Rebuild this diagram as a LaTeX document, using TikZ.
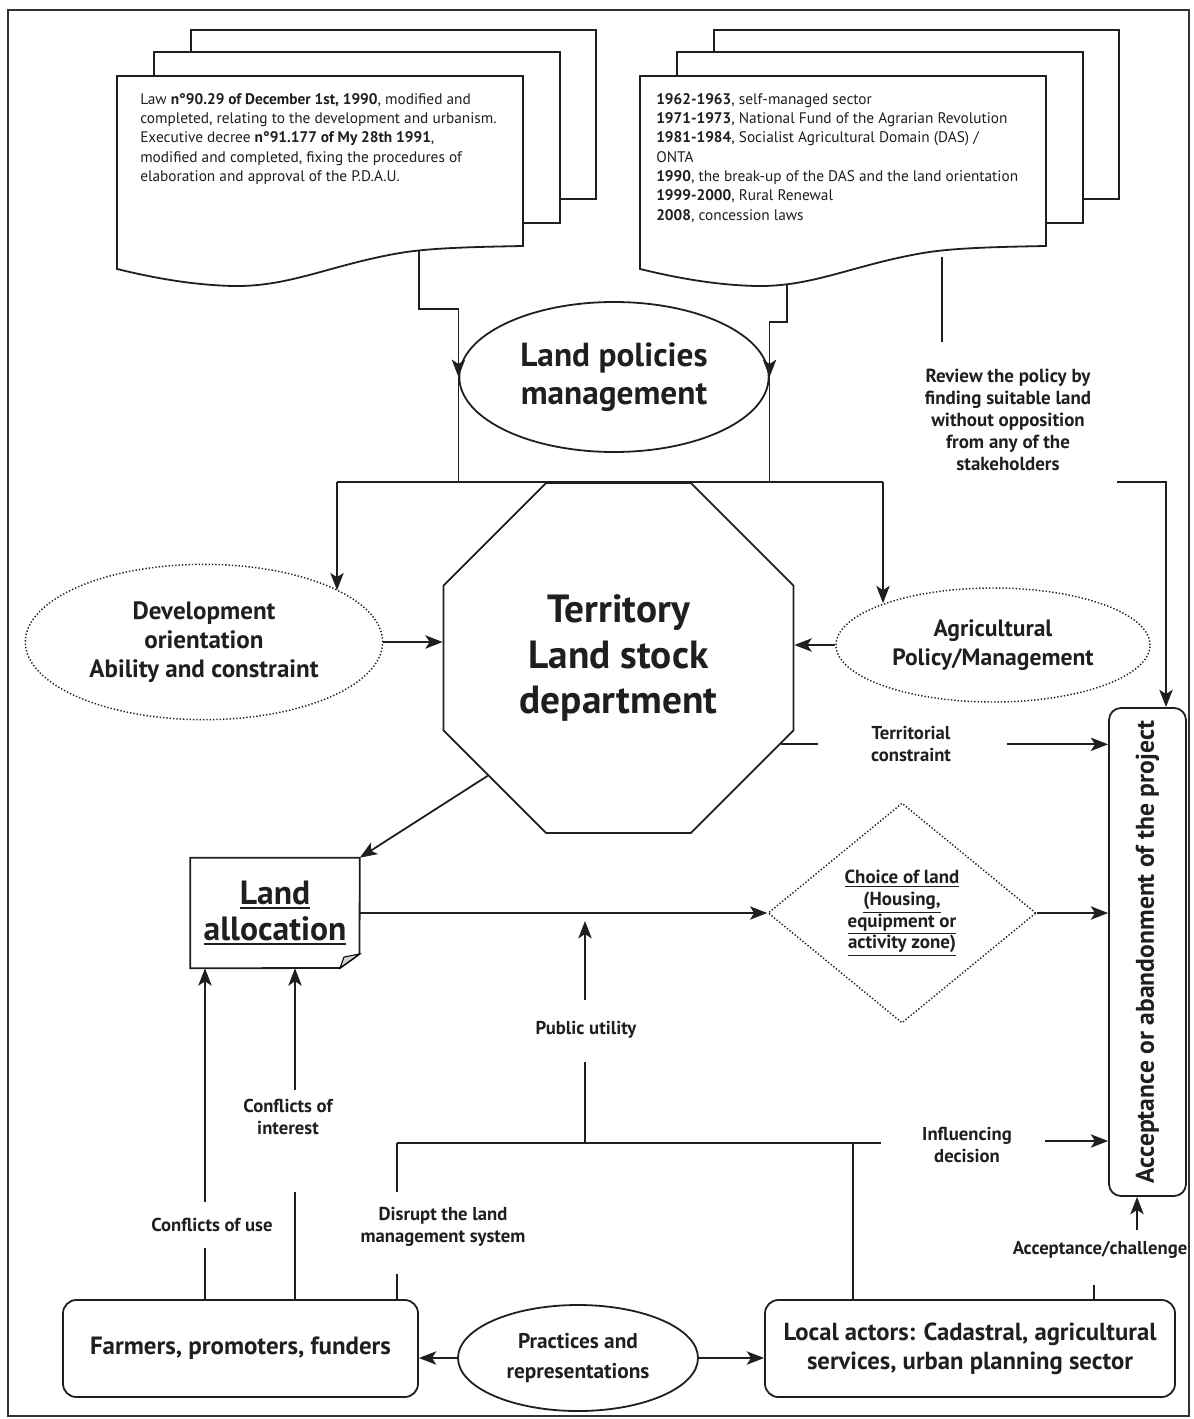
\documentclass[tikz,border=0pt]{standalone}
\usepackage{fontspec}
\setmainfont{PT Sans}
\usepackage{graphicx}
\usetikzlibrary{shapes.geometric,arrows.meta,calc}
\newcommand{\fsz}[2]{\fontsize{#1}{#2}\selectfont}
\newcommand{\myul}[2]{\vtop{\hbox{#2}\kern1.6pt\hrule height #1}}
\begin{document}
\begin{tikzpicture}[x=0.75pt,y=-0.75pt,
  ln/.style={line width=1.35pt,draw=black!88},
  arr/.style={ln,-{Stealth[length=13pt,width=10pt,inset=3.2pt]}},
  page/.style={ln,fill=white},
  dots/.style={draw=black!88,line width=1.1pt,dash pattern=on 1pt off 1.5pt},
  lbl/.style={font=\bfseries\fsz{14}{16.5},align=center,inner sep=0pt,text=black!88},
  doctext/.style={font=\fsz{11.5}{14.5},align=left,inner sep=0pt,anchor=north west,text=black!88},
  bigbox/.style={ln,rounded corners=10pt,inner sep=0pt,font=\bfseries\fsz{18.7}{22},align=center,text=black!88}
]
\useasboundingbox (0,0) rectangle (1194,1419);
\draw[line width=0.8pt,black!80] (8,10) rectangle (1189,1416);

% ---- left document stack
\draw[page] (191,30) rectangle (596,199);
\draw[page] (154,52) rectangle (560,223);
\draw[page] (117,76) -- (523,76) -- (523,246) .. controls (470,247) and (430,248) .. (400,253) .. controls (330,265) and (290,287) .. (233,286) .. controls (190,285) and (150,277) .. (117,269) -- cycle;
\node[doctext] (law) at (140,93) {Law \textbf{n°90.29 of December 1st, 1990}, modified and\\
completed, relating to the development and urbanism.\\
Executive decree \textbf{n°91.177 of My 28th 1991},\\
modified and completed, fixing the procedures of\\
elaboration and approval of the P.D.A.U.};

% ---- right document stack
\begin{scope}[shift={(523,0)}]
\draw[page] (191,30) rectangle (596,199);
\draw[page] (154,52) rectangle (560,223);
\draw[page] (117,76) -- (523,76) -- (523,246) .. controls (470,247) and (430,248) .. (400,253) .. controls (330,265) and (290,287) .. (233,286) .. controls (190,285) and (150,277) .. (117,269) -- cycle;
\end{scope}
\node[doctext] (hist) at (656,93) {\textbf{1962-1963}, self-managed sector\\
\textbf{1971-1973}, National Fund of the Agrarian Revolution\\
\textbf{1981-1984}, Socialist Agricultural Domain (DAS) /\\
ONTA\\
\textbf{1990}, the break-up of the DAS and the land orientation\\
\textbf{1999-2000}, Rural Renewal\\
\textbf{2008}, concession laws};

% ---- central nodes
\node[ellipse,ln,minimum width=232pt,minimum height=112.5pt,inner sep=0pt,
  font=\bfseries\fsz{25}{28.5},align=center,text=black!88] (lpm) at (614,377) {Land policies\\management};

\node[regular polygon,regular polygon sides=8,ln,minimum size=284pt,inner sep=0pt,
  font=\bfseries\fsz{29.5}{34},align=center,text=black!88] (oct) at (618.5,658) {Territory\\Land stock\\department};

\node[ellipse,dots,minimum width=268pt,minimum height=116.5pt,inner sep=0pt,
  font=\bfseries\fsz{18.8}{21.5},align=center,text=black!88] (dev) at (204,642) {Development\\orientation\\Ability and constraint};

\node[ellipse,dots,minimum width=235.5pt,minimum height=85.5pt,inner sep=0pt,
  font=\bfseries\fsz{17.7}{22},align=center,text=black!88] (agr) at (993,645) {Agricultural\\Policy/Management};

\node[lbl,font=\bfseries\fsz{14.2}{16.5}] (rev) at (1008,420) {Review the policy by\\finding suitable land\\without opposition\\from any of the\\stakeholders};

\node[ln,rounded corners=9pt,minimum width=57.75pt,minimum height=366pt,inner sep=0pt,text=black!88] (acc) at (1147.5,952)
  {\rotatebox{90}{\bfseries\fsz{19.2}{22}Acceptance or abandonment of the project}};

\node[minimum width=126.75pt,minimum height=82.5pt,inner sep=0pt,
  font=\bfseries\fsz{25.2}{27.5},align=center,text=black!88] (la) at (275,913) {\raisebox{3pt}{\myul{1.4pt}{Land}}\\\raisebox{3pt}{\myul{1.4pt}{allocation}}};
\coordinate (f1) at (359.5,954);
\coordinate (f2) at (340,968);
\coordinate (fm) at (344,957);
\draw[ln] (la.north west) -- (la.north east) -- (f1) -- (f2) -- (la.south west) -- cycle;
\draw[line width=0.8pt,fill=gray!35] (f1) -- (fm) -- (f2) -- cycle;

\node[diamond,dots,minimum width=201pt,minimum height=165pt,inner sep=0pt,
  font=\bfseries\fsz{14.2}{16.3},align=center,text=black!88] (dia) at (902,913) {\myul{0.7pt}{Choice of land}\\\myul{0.7pt}{(Housing,}\\\myul{0.7pt}{equipment or}\\\myul{0.7pt}{activity zone)}};

\node[lbl] (terr) at (911,744) {Territorial\\constraint};
\node[lbl] (pu) at (586,1030) {Public utility};
\node[lbl] (inf) at (967,1145) {Influencing\\decision};
\node[lbl] (cu) at (212,1225) {Conflicts of use};
\node[lbl] (ci) at (288,1117) {Conflicts of\\interest};
\node[lbl] (dis) at (443,1227) {Disrupt the land\\management system};
\node[lbl] (ac) at (1100,1250) {Acceptance/challenge};

% ---- bottom nodes
\node[bigbox,minimum width=266.25pt,minimum height=72.75pt] (far) at (240.5,1348.5) {Farmers, promoters, funders};
\node[bigbox,font=\bfseries\fsz{18.5}{22},minimum width=307.5pt,minimum height=72.75pt] (loc) at (970,1348.5) {Local actors: Cadastral, agricultural\\services, urban planning sector};
\node[ellipse,ln,minimum width=180pt,minimum height=79.5pt,inner sep=0pt,
  font=\bfseries\fsz{16}{22},align=center,text=black!88] (pra) at (578,1358) {Practices and\\representations};

% ---- coordinates for free ends
\coordinate (lawb) at (419,251);
\coordinate (bendL) at (419,309);
\coordinate (histb) at (787,285);
\coordinate (bendR) at (787,322);
\coordinate (jDev) at (337,482);
\coordinate (jAgr) at (883,482);
\coordinate (r1) at (942,257);
\coordinate (r2) at (942,342);
\coordinate (r3) at (1117,482);
\coordinate (r4) at (1166,482);
\coordinate (t1) at (818,744);
\coordinate (t2) at (1007,744);
\coordinate (pu1) at (585,1000);
\coordinate (pu2) at (585,921);
\coordinate (pu3) at (585,1062);
\coordinate (hb1) at (397,1143);
\coordinate (hb2) at (881,1143);
\coordinate (i1) at (1045,1141);
\coordinate (a1) at (205,1248);
\coordinate (a2) at (205,1202);
\coordinate (b1) at (295,1192);
\coordinate (b2) at (295,1090);
\coordinate (c1) at (397,1274);
\coordinate (c2) at (397,1192);
\coordinate (d1) at (853,1143);
\coordinate (e1) at (1094,1285);
\coordinate (e2) at (1137,1230);

% ---- connectors
\draw[arr] (lawb) -- (bendL) -| (lpm.west);
\draw[ln] (lpm.west) -- (lpm.west |- jDev);
\draw[arr] (histb) -- (bendR) -| (lpm.east);
\draw[ln] (lpm.east) -- (lpm.east |- jDev);
\draw[ln] (jDev) -- (jAgr);
\draw[arr] (jDev) -- (jDev |- dev.21.4);
\draw[arr] (jAgr) -- (jAgr |- agr.159.6);
\draw[arr] (dev.east) -- (dev.east -| oct.west);
\draw[arr] (agr.west) -- (agr.west -| oct.east);
\draw[ln] (r1) -- (r2);
\draw[arr] (r3) -- (r4) -- (r4 |- acc.north);
\draw[ln] (oct.332) -- (t1 |- oct.332);
\draw[arr] (t2 |- oct.332) -- (acc.west |- oct.332);
\draw[arr] (oct.222) -- (la.north east);
\draw[arr] (la.east) -- (dia.west);
\draw[arr] (dia.east) -- (dia.east -| acc.west);
\draw[arr] (pu1) -- (pu2);
\draw[ln] (pu3) -- (pu3 |- hb1);
\draw[ln] (hb1) -- (hb2);
\draw[arr] (i1) -- (i1 -| acc.west);
\draw[ln] (a1 |- far.north) -- (a1);
\draw[arr] (a2) -- (a2 |- la.south);
\draw[ln] (b1 |- far.north) -- (b1);
\draw[arr] (b2) -- (b2 |- la.south);
\draw[ln] (c1 |- far.north) -- (c1);
\draw[ln] (c2) -- (hb1);
\draw[ln] (d1) -- (d1 |- loc.north);
\draw[ln] (e1 |- loc.north) -- (e1);
\draw[arr] (e2) -- (e2 |- acc.south);
\draw[arr] (pra.west) -- (pra.west -| far.east);
\draw[arr] (pra.east) -- (pra.east -| loc.west);
\end{tikzpicture}
\end{document}
